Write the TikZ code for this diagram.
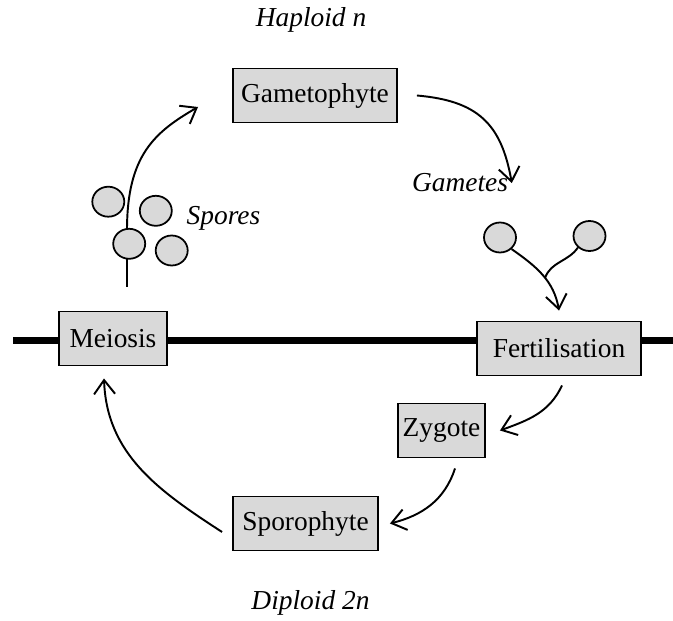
\documentclass[tikz,border=0pt]{standalone}
\usepackage{fontspec}
\setmainfont{Liberation Serif}
\usetikzlibrary{arrows.meta}
\usetikzlibrary{shapes.geometric}

\definecolor{cellgray}{RGB}{217,217,217}

\begin{document}
\fontsize{15.6}{18}\selectfont
\begin{tikzpicture} [x=0.02cm, y=-0.02cm,
 stagebox/.style={draw, line width=1.1pt, fill=cellgray, minimum height=1.08cm, inner sep=0pt},
 cell/.style={ellipse, draw, line width=1pt, fill=cellgray, minimum width=0.64cm, minimum height=0.6cm, inner sep=0pt},
 phase/.style={font=\itshape, anchor=base, inner sep=2pt},
 link/.style={line width=1.1pt},
 cycle/.style={link, -{Straight Barb[length=0.28cm, width=0.42cm]}}]
 \useasboundingbox (0,0) rectangle (673,621);

 % haploid / diploid border
 \coordinate (lineleft) at (13,340.5);
 \coordinate (lineright) at (673,340.5);
 \draw [line width=0.14cm] (lineleft) -- (lineright);

 \node [stagebox, minimum width=2.16cm] (meiosis) at (113,338.5) {Meiosis};
 \node [stagebox, minimum width=3.28cm] (gametophyte) at (315,95.5) {Gametophyte};
 \node [stagebox, minimum width=3.28cm] (fertilisation) at (559,348.5) {Fertilisation};
 \node [stagebox, minimum width=1.74cm] (zygote) at (441.5,430.5) {Zygote};
 \node [stagebox, minimum width=2.9cm] (sporophyte) at (305.5,523.5) {Sporophyte};

 \node [phase] (haploid) at (311,27) {Haploid n};
 \node [phase] (diploid) at (310.5,609) {Diploid 2n};
 \node [phase] (spores) at (223.5,225) {Spores};
 \node [phase] (gametes) at (460,192) {Gametes};

 % spores leave meiosis
 \coordinate (sporebase) at (127,287);
 \coordinate (sporebend) at (127,230);
 \coordinate (sporetip) at (198,107);
 \draw [cycle] (sporebase) -- (sporebend) .. controls (127,155) and (155,132) .. (sporetip);
 \node [cell] (spore1) at (108.3,201.7) {};
 \node [cell] (spore2) at (155.8,210.8) {};
 \node [cell] (spore3) at (129.2,243.8) {};
 \node [cell] (spore4) at (171.7,250.5) {};

 \draw [cycle] ([xshift=0.38cm]gametophyte.east) to [out=-5, in=100, looseness=1.2] (gametes.east);

 % two gametes fuse
 \node [cell] (gameteA) at (500,237.5) {};
 \node [cell] (gameteB) at (589.5,236) {};
 \coordinate (fusion) at ([yshift=0.2cm]fertilisation.north);
 \draw [cycle] (gameteA.-45) to [out=-35, in=100] coordinate [pos=0.55] (merge) (fusion);
 \draw [link] (gameteB.-135) to [out=-125, in=70] (merge);

 \draw [cycle] ([xshift=0.06cm, yshift=-0.18cm]fertilisation.south) to [out=-115, in=20] ([xshift=0.28cm]zygote.east);
 \draw [cycle] ([xshift=0.27cm, yshift=-0.2cm]zygote.south) to [out=-108, in=14] ([xshift=0.22cm]sporophyte.east);
 \draw [cycle] ([xshift=-0.2cm, yshift=-0.17cm]sporophyte.west) to [out=147, in=-88] ([xshift=-0.18cm, yshift=-0.24cm]meiosis.south);
\end{tikzpicture}
\end{document}
